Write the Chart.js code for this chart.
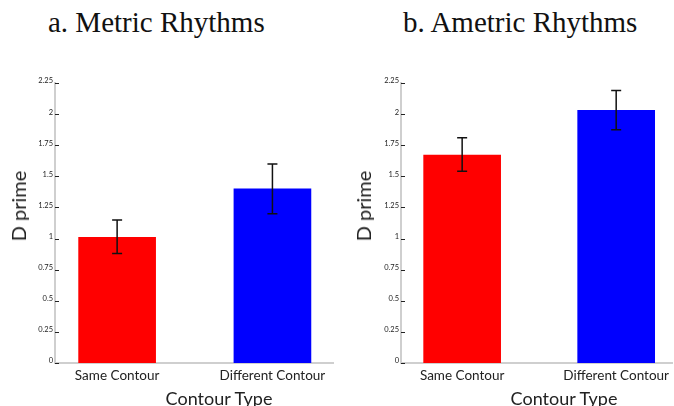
<!DOCTYPE html>
<html>
<head>
<meta charset="utf-8">
<script src="https://cdn.jsdelivr.net/npm/chart.js@4"></script>
<style>
  body { margin: 0; background: #fff; width: 674px; height: 406px; overflow: hidden; position: relative; }
  .box { position: absolute; top: 60px; height: 346px; }
  .title { position: absolute; top: 8px; font: 29px/29px "Liberation Serif", "Times New Roman", serif; color: #111; white-space: nowrap; }
  .xtitle { position: absolute; top: 388px; font: 18px/20px Lato, sans-serif; color: #222; white-space: nowrap; transform: translateX(-50%); }
  .ytitle { position: absolute; top: 206px; font: 20px/22px Lato, sans-serif; color: #222; white-space: nowrap; transform: translate(-50%, -50%) rotate(-90deg); }
</style>
</head>
<body>
<div class="title" style="left:48px">a. Metric Rhythms</div>
<div class="title" style="left:403px">b. Ametric Rhythms</div>
<div class="box" style="left:0;width:340px"><canvas id="metrisch"></canvas></div>
<div class="box" style="left:340px;width:334px"><canvas id="ametrisch"></canvas></div>
<div class="ytitle" style="left:18px">D prime</div>
<div class="ytitle" style="left:363px">D prime</div>
<div class="xtitle" style="left:219px">Contour Type</div>
<div class="xtitle" style="left:564px">Contour Type</div>
<script>
const categories = ['Same Contour', 'Different Contour'];
const barColors = ['#ff0000', '#0000ff'];
const yTicks = [0, 0.25, 0.5, 0.75, 1, 1.25, 1.5, 1.75, 2, 2.25];

const metricMeans = [1.01, 1.40];
const metricLow = [0.88, 1.20];
const metricHigh = [1.15, 1.60];

const ametricMeans = [1.67, 2.03];
const ametricLow = [1.54, 1.875];
const ametricHigh = [1.81, 2.19];

// foutbalken en tickstreepjes binnen het plotgebied
const errorBars = {
  id: 'errorBars',
  afterDatasetsDraw(chart, args, opts) {
    const ctx = chart.ctx;
    const x = chart.scales.x, y = chart.scales.y;
    ctx.save();
    ctx.strokeStyle = '#111';
    ctx.lineWidth = 1.5;
    opts.low.forEach((lo, i) => {
      const px = x.getPixelForValue(i);
      const top = y.getPixelForValue(opts.high[i]);
      const bot = y.getPixelForValue(lo);
      ctx.beginPath();
      ctx.moveTo(px, top); ctx.lineTo(px, bot);
      ctx.moveTo(px - 5, top); ctx.lineTo(px + 5, top);
      ctx.moveTo(px - 5, bot); ctx.lineTo(px + 5, bot);
      ctx.stroke();
    });
    // korte tickjes aan de binnenkant van de y-as
    ctx.strokeStyle = '#222';
    ctx.lineWidth = 1;
    y.ticks.forEach(t => {
      const py = Math.round(y.getPixelForValue(t.value)) + 0.5;
      ctx.beginPath();
      ctx.moveTo(chart.chartArea.left, py);
      ctx.lineTo(chart.chartArea.left + 4, py);
      ctx.stroke();
    });
    ctx.restore();
  }
};

function makeChart(id, means, low, high, yWidth, xMin, xMax, padRight) {
  const config = {
    type: 'bar',
    data: {
      datasets: [{
        data: means.map((v, i) => ({ x: i, y: v })),
        backgroundColor: barColors,
        borderWidth: 0,
        barThickness: 77
      }]
    },
    plugins: [errorBars],
    options: {
      responsive: true,
      maintainAspectRatio: false,
      animation: false,
      layout: { padding: { top: 23, right: padRight, left: 0, bottom: 0 } },
      plugins: {
        legend: { display: false },
        tooltip: { enabled: false },
        errorBars: { low: low, high: high }
      },
      scales: {
        x: {
          type: 'linear',
          offset: false,
          min: xMin,
          max: xMax,
          afterBuildTicks: s => { s.ticks = [{ value: 0 }, { value: 1 }]; },
          afterFit: s => { s.height = 43; },
          grid: { display: false, drawTicks: false },
          border: { display: true, color: '#cfcfcf', width: 2 },
          ticks: {
            padding: 5,
            color: '#222',
            font: { family: 'Lato', size: 13.5 },
            callback: v => categories[v]
          }
        },
        y: {
          min: 0,
          max: 2.25,
          afterBuildTicks: s => { s.ticks = yTicks.map(v => ({ value: v })); },
          afterFit: s => { s.width = yWidth; },
          grid: { display: false, drawTicks: false },
          border: { display: true, color: '#cfcfcf', width: 2 },
          ticks: {
            padding: 2,
            labelOffset: -2,
            color: '#222',
            font: { family: 'Lato', size: 7.5 },
            callback: v => String(v)
          }
        }
      }
    }
  };
  return new Chart(document.getElementById(id), config);
}

const chartA = makeChart('metrisch', metricMeans, metricLow, metricHigh, 55, -0.4, 1.39, 7);
const chartB = makeChart('ametrisch', ametricMeans, ametricLow, ametricHigh, 61, -0.397, 1.365, 0);
</script>
</body>
</html>
